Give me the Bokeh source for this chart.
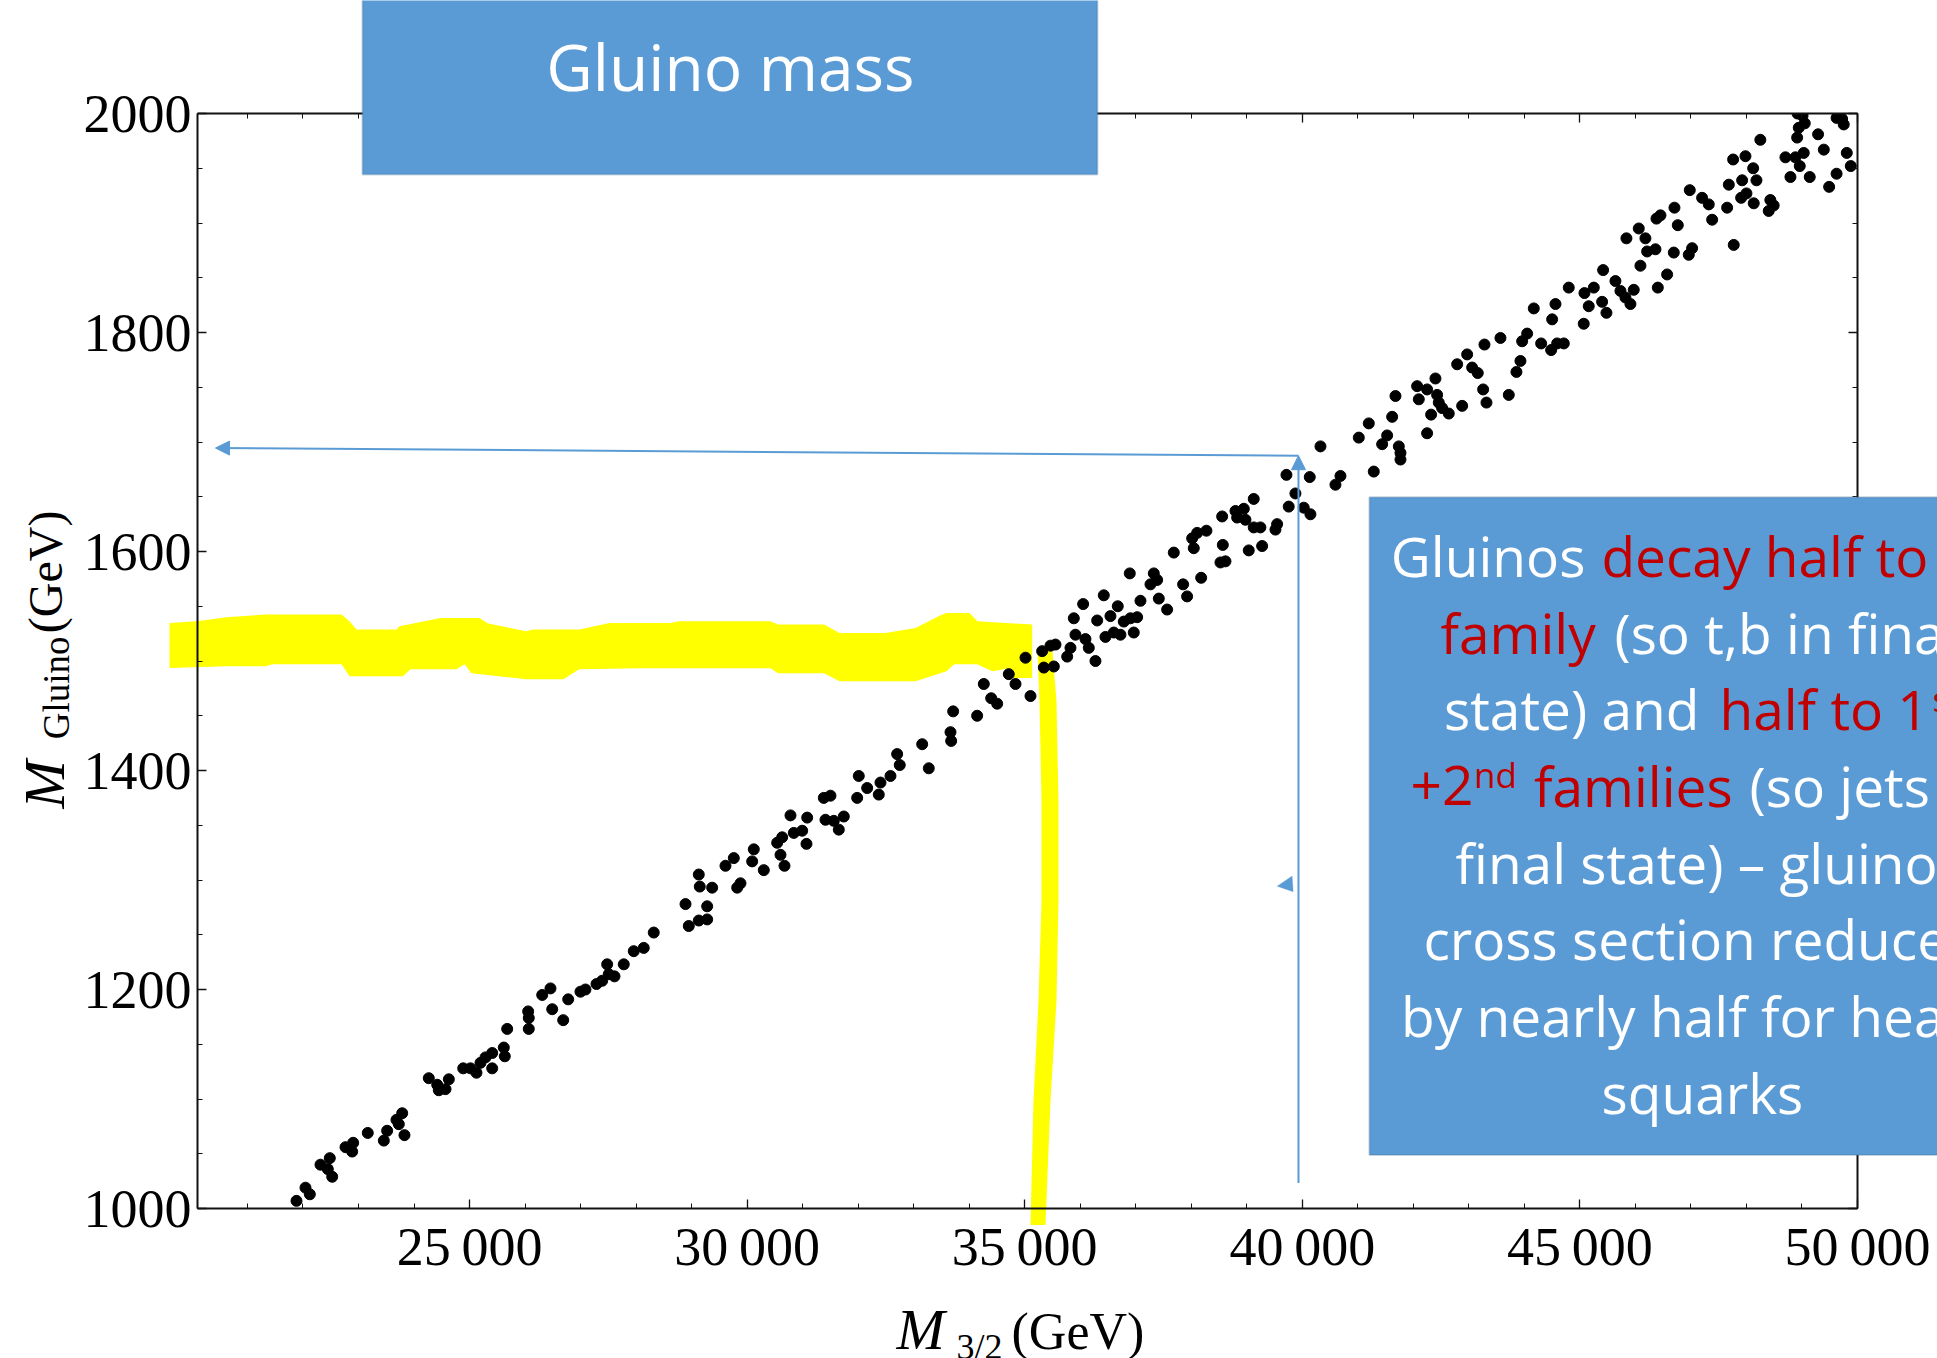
import math
from bokeh.plotting import figure
from bokeh.models import (LinearAxis, FixedTicker, Range1d, Label, BoxAnnotation,
                          PolyAnnotation, Arrow, NormalHead, ColumnDataSource)
from bokeh.embed import file_html
from bokeh.resources import INLINE

# ---------------- data ----------------
m32 = [21883, 22045, 22123, 22315, 22483, 22447, 22526, 22766, 22904, 22886, 23167, 23456, 23516, 23684,
       23787, 23726, 23828, 24266, 24418, 24446, 24567, 24627, 24886, 25017, 25125, 25197, 25287, 25408,
       25408, 25617, 25635, 25678, 26056, 26067, 26067, 26309, 26458, 26489, 26687, 26777, 26998, 27088,
       27287, 27389, 27479, 27508, 27611, 27778, 27958, 28138, 28318,
       28890, 28949, 29129, 29147, 29129, 29280, 29280, 29370, 29610, 29760, 29821, 29880, 30120, 30091,
       30300, 30541, 30631, 30601, 30673, 30781, 30841, 30992, 31069, 31082, 31381, 31501, 31411, 31561,
       31651, 31741, 31982, 32011, 32162, 32371, 32402, 32582, 32702, 32749, 33153, 33272, 33663, 33675,
       33711, 34143, 34263, 34396, 34504, 34713,
       34834, 35014, 35104, 35314, 35344, 35464, 35524, 35554, 35765, 35824, 35884, 35914, 36052, 36094,
       36154, 36274, 36305, 36424, 36454, 36544, 36604, 36676, 36724, 36784, 36904, 36892, 36964, 37025,
       37085, 37265, 37325, 37385, 37415, 37565, 37685, 37853, 37925, 38016, 38045, 38106, 38178, 38273,
       38526, 38556, 38568, 38616, 38796, 38826, 38946, 38976, 39035, 39125, 39125, 39245, 39276, 39516,
       39546, 39714, 39755, 39876, 40026, 40146, 40134, 40327, 40597, 40687, 41017, 41197, 41287,
       41438, 41528, 41618, 41678, 41738, 41768, 41768, 42068, 42098, 42248, 42248, 42320, 42398, 42428,
       42458, 42518, 42638, 42789, 42879, 42969, 43059, 43160, 43257, 43281, 43317, 43569, 43719, 43857,
       43929, 43960, 44050, 44169, 44302, 44500, 44482, 44560, 44590, 44710, 44799, 45082, 45069, 45159,
       45250, 45400, 45418, 45478, 45640, 45730, 45820, 45910, 45970, 45838, 46060, 46090, 46180, 46211,
       46361, 46379, 46451, 46403, 46571, 46691, 46703, 46763, 46961, 47021, 46979, 47201, 47321, 47382,
       47652, 47682, 47760, 47771,
       47922, 47982, 48000, 48121, 48180, 48131, 47904, 48250, 48430, 48490, 48401, 48702, 48792, 48882,
       48913, 48942, 48920, 49010, 48960, 49032, 49050, 49140, 49290, 49393, 49489, 49623, 49723, 49752,
       49807, 49879, 49623]
m_gluino = [1007, 1019, 1013, 1040, 1046, 1036, 1029, 1056, 1060, 1052, 1069, 1062, 1071, 1081,
            1087, 1077, 1067, 1119, 1113, 1108, 1109, 1118, 1128, 1128, 1124, 1133, 1138, 1128,
            1142, 1147, 1139, 1164, 1180, 1174, 1164, 1195, 1201, 1182, 1172, 1191, 1198, 1200,
            1205, 1208, 1223, 1214, 1212, 1223, 1235, 1238, 1252,
            1278, 1258, 1305, 1294, 1263, 1264, 1276, 1293, 1313, 1320, 1293, 1297, 1328, 1317,
            1309, 1334, 1339, 1323, 1313, 1359, 1343, 1345, 1333, 1357, 1375, 1377, 1355, 1354,
            1346, 1358, 1375, 1395, 1384, 1378, 1389, 1395, 1415, 1405, 1424, 1402, 1435, 1427,
            1454, 1450, 1479, 1466, 1461, 1488,
            1479, 1503, 1468, 1509, 1494, 1514, 1495, 1515, 1504, 1512, 1539, 1524, 1552, 1520,
            1512, 1500, 1537, 1560, 1522, 1541, 1526, 1550, 1524, 1536, 1539, 1580, 1526, 1540,
            1555, 1570, 1580, 1574, 1557, 1547, 1599, 1570, 1559, 1612, 1603, 1617, 1576, 1619,
            1590, 1632, 1606, 1591, 1637, 1631, 1639, 1629, 1601, 1648, 1622, 1622, 1605, 1620,
            1625, 1670, 1641, 1653, 1640, 1634, 1668, 1696, 1661, 1669, 1704, 1717, 1673,
            1698, 1706, 1723, 1742, 1696, 1690, 1684, 1751, 1739, 1748, 1708, 1725, 1758, 1743,
            1736, 1731, 1726, 1771, 1733, 1780, 1768, 1763, 1748, 1789, 1736, 1795, 1743, 1764,
            1774, 1792, 1799, 1822, 1790, 1812, 1784, 1826, 1790, 1790, 1841, 1836, 1808, 1824,
            1841, 1828, 1857, 1818, 1847, 1838, 1832, 1826, 1839, 1886, 1895, 1861, 1886, 1874,
            1876, 1904, 1907, 1841, 1853, 1873, 1914, 1898, 1871, 1877, 1930, 1923, 1917, 1903,
            1914, 1935, 1958, 1880,
            1939, 1961, 1927, 1950, 1939, 1918, 1923, 1976, 1921, 1916, 1911, 1960, 1942, 1960,
            1978, 1987, 2000, 1998, 1952, 1964, 1991, 1942, 1981, 1967, 1933, 1945, 1995, 1990,
            1964, 1952, 1996]

x_ticks = [25000, 30000, 35000, 40000, 45000, 50000]
x_tick_labels = ["25\u2009000", "30\u2009000", "35\u2009000", "40\u2009000", "45\u2009000", "50\u2009000"]
x_minor = list(range(21000, 50001, 1000))
y_ticks = [1000, 1200, 1400, 1600, 1800, 2000]
y_tick_labels = ["1000", "1200", "1400", "1600", "1800", "2000"]
y_minor = list(range(1000, 2001, 50))

# hand-drawn yellow highlight (data units)
band_x = [19596, 20082, 20622, 21325, 22694, 22838, 22964, 23684, 23738, 24477, 25179, 25323, 26008,
          26152, 26981, 27521, 28620, 28764, 30421, 30556, 31384, 31663, 32492, 33033, 33483, 33591,
          34005, 34149, 35134,
          35134, 34743, 34743, 34420, 34140, 33728, 33591, 33033, 31663, 31384, 30556, 30421, 28079,
          26973, 26692, 26008, 25864, 25035, 24909, 24765, 23936, 23801, 22838, 22694, 21451, 21325,
          20622, 19596]
band_y = [1534.7, 1536.3, 1540.0, 1542.4, 1542.4, 1536.3, 1528.7, 1528.7, 1531.7, 1539.3, 1539.3,
          1534.5, 1527.2, 1528.7, 1528.7, 1534.7, 1534.7, 1536.3, 1536.3, 1533.3, 1533.3, 1525.6,
          1525.6, 1530.2, 1541.8, 1543.9, 1543.9, 1536.3, 1533.3,
          1484.5, 1484.5, 1493.6, 1490.6, 1497.0, 1497.0, 1490.6, 1481.5, 1481.5, 1488.8, 1488.8,
          1493.4, 1493.4, 1492.5, 1483.3, 1483.3, 1484.3, 1488.8, 1497.0, 1492.5, 1492.5, 1486.0,
          1486.0, 1497.0, 1497.0, 1495.2, 1495.2, 1493.7]
stroke_x = [35500, 35572, 35608, 35608, 35572, 35464, 35374, 35104, 35158, 35248, 35302, 35302, 35266, 35230]
stroke_y = [1508.9, 1463.3, 1372.0, 1280.7, 1189.4, 1098.1, 985.0, 985.0, 1098.1, 1189.4, 1280.7, 1372.0, 1463.3, 1508.9]

# blue arrows (data units)
arrow_h = dict(x_start=39931, y_start=1687.5, x_end=20424, y_end=1694.5)
arrow_v = dict(x_start=39931, y_start=1023.3, x_end=39931, y_end=1687.5)
stray_head_x = [39547, 39817, 39835]
stray_head_y = [1294.4, 1303.6, 1289.2]

BLUE = "#5B9BD5"
BLUE_EDGE = "#41719C"
RED = "#C00000"
SERIF = "Liberation Serif"
SANS = "Open Sans"

# ---------------- geometry ----------------
W_PX, H_PX = 1937, 1358
FRAME_L, FRAME_R, FRAME_T, FRAME_B = 197, 1857, 113, 1208
X0, X1 = 20100, 50000
Y0, Y1 = 1000, 2000
kx = (FRAME_R - FRAME_L) / (X1 - X0)
ky = (FRAME_B - FRAME_T) / (Y1 - Y0)
full_x = (X0 - FRAME_L / kx, X1 + (W_PX - FRAME_R) / kx)
full_y = (Y0 - (H_PX - FRAME_B) / ky, Y1 + FRAME_T / ky)
STACK = {"position": "absolute", "left": "0px", "top": "0px"}


def layer(bg):
    f = figure(width=W_PX, height=H_PX, x_range=Range1d(*full_x), y_range=Range1d(*full_y),
               output_backend="svg", toolbar_location=None, x_axis_location=None,
               y_axis_location=None, min_border=0)
    f.title.visible = False
    f.grid.visible = False
    f.outline_line_color = None
    f.background_fill_color = bg
    f.border_fill_color = bg
    f.styles = dict(STACK)
    return f


# bottom layer: white page + yellow highlight
under = layer("white")
under.add_layout(PolyAnnotation(xs=band_x, ys=band_y, fill_color="#FFFF00", fill_alpha=1.0,
                                line_color=None))
under.add_layout(PolyAnnotation(xs=stroke_x, ys=stroke_y, fill_color="#FFFF00", fill_alpha=1.0,
                                line_color=None))

# main plot
p = figure(width=W_PX, height=H_PX, x_range=Range1d(X0, X1), y_range=Range1d(Y0, Y1),
           output_backend="svg", toolbar_location=None,
           min_border_left=FRAME_L, min_border_right=W_PX - FRAME_R,
           min_border_top=FRAME_T, min_border_bottom=H_PX - FRAME_B)
p.title.visible = False
p.xgrid.visible = False
p.ygrid.visible = False
p.outline_line_color = None
p.background_fill_color = None
p.border_fill_color = None
p.styles = dict(STACK)

p.add_layout(LinearAxis(), "above")
p.add_layout(LinearAxis(), "right")


def style_axis(ax, ticks, minor, labels, show):
    ax.ticker = FixedTicker(ticks=ticks, minor_ticks=minor)
    if show:
        ax.major_label_overrides = {t: l for t, l in zip(ticks, labels)}
    else:
        ax.major_label_overrides = {t: "" for t in ticks}
    ax.axis_line_color = "#111111"
    ax.axis_line_width = 2
    ax.major_tick_in = 9
    ax.major_tick_out = 0
    ax.minor_tick_in = 5
    ax.minor_tick_out = 0
    ax.major_tick_line_color = "#111111"
    ax.minor_tick_line_color = "#111111"
    ax.major_tick_line_width = 1.3
    ax.minor_tick_line_width = 1.0
    ax.major_label_text_font = SERIF
    ax.major_label_text_font_size = "54px"
    ax.major_label_text_color = "black"


for ax in p.below:
    style_axis(ax, x_ticks, x_minor, x_tick_labels, True)
    ax.major_label_standoff = 8
for ax in p.above:
    style_axis(ax, x_ticks, x_minor, x_tick_labels, False)
for ax in p.left:
    style_axis(ax, y_ticks, y_minor, y_tick_labels, True)
    ax.major_label_standoff = 6
for ax in p.right:
    style_axis(ax, y_ticks, y_minor, y_tick_labels, False)

src = ColumnDataSource(dict(x=m32, y=m_gluino))
p.scatter(x="x", y="y", source=src, size=11, fill_color="black", line_color="black")

p.add_layout(Arrow(end=NormalHead(size=14, fill_color=BLUE, line_color=BLUE), line_color=BLUE,
                   line_width=2, **arrow_h))
p.add_layout(Arrow(end=NormalHead(size=14, fill_color=BLUE, line_color=BLUE), line_color=BLUE,
                   line_width=2, **arrow_v))
p.add_layout(PolyAnnotation(xs=stray_head_x, ys=stray_head_y, fill_color=BLUE, fill_alpha=1.0,
                            line_color=BLUE))

# top layer: text boxes and axis titles
over = layer(None)
over.add_layout(BoxAnnotation(left=23072, right=36310, bottom=1944.3, top=2115, fill_color=BLUE,
                              fill_alpha=1.0, line_color=BLUE_EDGE, line_width=2))
over.add_layout(Label(x=29700, y=2043, text="Gluino mass", text_font=SANS, text_font_size="64px",
                      text_color="white", text_align="center", text_baseline="alphabetic"))

over.add_layout(BoxAnnotation(left=41209, right=53295, bottom=1048.8, top=1649.5, fill_color=BLUE,
                              fill_alpha=1.0, line_color=BLUE_EDGE, line_width=2))
W, R = "white", RED
segments = [
    (41595, 1596.3, "Gluinos", W, 55), (45388, 1596.3, "decay half to 3", R, 55),
    (52088, 1606.0, "rd", R, 35),
    (42489, 1526.3, "family", R, 55), (45622, 1526.3, "(so t,b in final", W, 55),
    (42553, 1456.3, "state) and", W, 55), (47513, 1456.3, "half to 1", R, 55),
    (51350, 1466.0, "st", R, 35),
    (41948, 1386.3, "+2", R, 55), (43094, 1396.0, "nd", R, 35), (44172, 1386.3, "families", R, 55),
    (48054, 1386.3, "(so jets in", W, 55),
    (42759, 1316.3, "final state) \u2013 gluino", W, 55),
    (42182, 1246.3, "cross section reduced", W, 55),
    (41779, 1176.3, "by nearly half for heavy", W, 55),
]
for sx, sy, txt, col, fs in segments:
    over.add_layout(Label(x=sx, y=sy, text=txt, text_font=SANS, text_font_size=f"{fs}px",
                          text_color=col, text_align="left", text_baseline="alphabetic"))
over.add_layout(Label(x=47207, y=1106.3, text="squarks", text_font=SANS, text_font_size="55px",
                      text_color=W, text_align="center", text_baseline="alphabetic"))

# axis titles with subscripts
over.add_layout(Label(x=32690, y=889.3, text="M", text_font=SERIF, text_font_style="italic",
                      text_font_size="58px", text_color="black", text_baseline="alphabetic"))
over.add_layout(Label(x=33771, y=873.6, text="3/2", text_font=SERIF, text_font_size="36px",
                      text_color="black", text_baseline="alphabetic"))
over.add_layout(Label(x=34762, y=887.7, text="(GeV)", text_font=SERIF, text_font_size="52px",
                      text_color="black", text_baseline="alphabetic"))

over.add_layout(Label(x=17340, y=1365.3, text="M", text_font=SERIF, text_font_style="italic",
                      text_font_size="58px", text_color="black", text_baseline="alphabetic",
                      angle=math.pi / 2))
over.add_layout(Label(x=17553, y=1428.6, text="Gluino", text_font=SERIF, text_font_size="37px",
                      text_color="black", text_baseline="alphabetic", angle=math.pi / 2))
over.add_layout(Label(x=17354, y=1525.4, text="(GeV)", text_font=SERIF, text_font_size="48px",
                      text_color="black", text_baseline="alphabetic", angle=math.pi / 2))

open("out.html", "w").write(file_html([under, p, over], INLINE))
